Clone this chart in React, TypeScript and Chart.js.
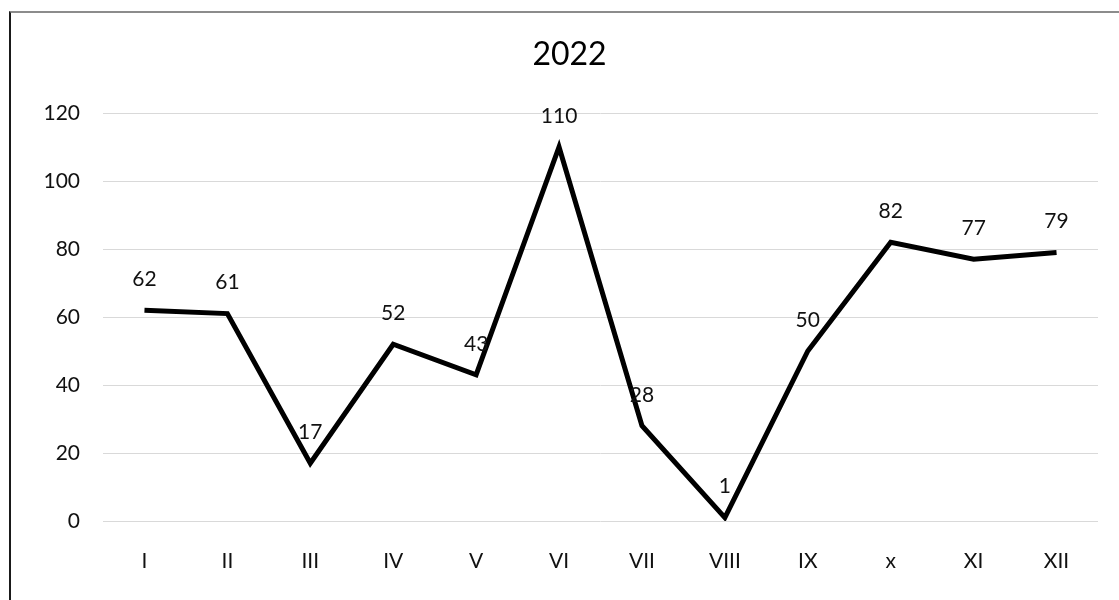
import React, { useEffect, useRef } from "react";
import { Chart, registerables } from "chart.js";

Chart.register(...registerables);

const title = "2022";
const months = ["I", "II", "III", "IV", "V", "VI", "VII", "VIII", "IX", "x", "XI", "XII"];
const values = [62, 61, 17, 52, 43, 110, 28, 1, 50, 82, 77, 79];
const yMin = 0;
const yMax = 120;
const yStep = 20;

const FONT = "Lato, 'Open Sans', sans-serif";
const TEXT = "#111111";

// Writes each point's value centred above it.
const valueLabels = {
  id: "valueLabels",
  afterDatasetsDraw(chart: any) {
    const { ctx } = chart;
    const meta = chart.getDatasetMeta(0);
    const data = chart.data.datasets[0].data as number[];
    ctx.save();
    ctx.font = `21px ${FONT}`;
    ctx.fillStyle = TEXT;
    ctx.textAlign = "center";
    ctx.textBaseline = "middle";
    meta.data.forEach((pt: any, i: number) => {
      ctx.fillText(String(data[i]), pt.x, pt.y - 31);
    });
    ctx.restore();
  },
};

// Chart heading, centred on the framed panel (which runs a little past the right edge).
const heading = {
  id: "heading",
  afterDraw(chart: any) {
    const { ctx } = chart;
    ctx.save();
    ctx.font = `32px ${FONT}`;
    ctx.fillStyle = "#000000";
    ctx.textAlign = "center";
    ctx.textBaseline = "middle";
    ctx.fillText(title, chart.width / 2 + 10, 55);
    ctx.restore();
  },
};

export default function App() {
  const canvasRef = useRef<HTMLCanvasElement | null>(null);

  useEffect(() => {
    if (!canvasRef.current) return;
    const chart = new Chart(canvasRef.current, {
      type: "line",
      data: {
        labels: months,
        datasets: [
          {
            data: values,
            borderColor: "#000000",
            backgroundColor: "#000000",
            borderWidth: 5,
            borderCapStyle: "butt",
            borderJoinStyle: "miter",
            pointRadius: 0,
            tension: 0,
            fill: false,
          },
        ],
      },
      options: {
        animation: false,
        responsive: false,
        maintainAspectRatio: false,
        layout: { padding: { left: 0, right: 21, top: 113, bottom: 0 } },
        plugins: {
          legend: { display: false },
          tooltip: { enabled: false },
          title: { display: false },
        },
        scales: {
          x: {
            offset: true,
            grid: { display: false, drawTicks: false },
            border: { display: false },
            ticks: {
              color: TEXT,
              padding: 28,
              maxRotation: 0,
              font: { family: FONT, size: 21 },
            },
            afterFit(scale: any) {
              scale.height = 79;
            },
          },
          y: {
            min: yMin,
            max: yMax,
            grid: { color: "#d9d9d9", lineWidth: 1, drawTicks: false },
            border: { display: false },
            ticks: {
              stepSize: yStep,
              color: TEXT,
              padding: 23,
              font: { family: FONT, size: 21 },
            },
            afterFit(scale: any) {
              scale.width = 103;
            },
          },
        },
      },
      plugins: [valueLabels, heading],
    });
    return () => chart.destroy();
  }, []);

  return (
    <div
      style={{
        position: "fixed",
        left: 0,
        top: 0,
        width: 1119,
        height: 600,
        background: "#ffffff",
        overflow: "hidden",
      }}
    >
      <div
        style={{
          position: "absolute",
          left: 9,
          top: 11,
          width: 1110,
          height: 589,
          borderLeft: "2px solid #1a1a1a",
          borderTop: "2px solid #8c8c8c",
          boxSizing: "border-box",
        }}
      />
      <canvas
        ref={canvasRef}
        width={1119}
        height={600}
        style={{ position: "absolute", left: 0, top: 0, width: 1119, height: 600 }}
      />
    </div>
  );
}
